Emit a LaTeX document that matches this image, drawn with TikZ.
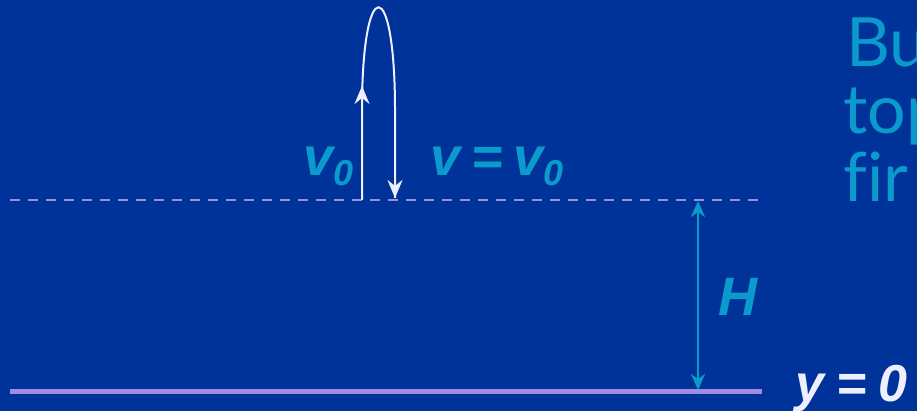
\documentclass[tikz,border=0pt]{standalone}
\usepackage{fontspec}
\setmainfont{Liberation Sans}
\newfontfamily\handfont[Ligatures=NoCommon]{Lato}
\usetikzlibrary{arrows.meta}
\definecolor{bgblue}{HTML}{003399}
\definecolor{cyantext}{HTML}{0A9ACC}
\definecolor{lav}{HTML}{A08CE0}
\definecolor{whitish}{HTML}{EEEEFF}
\tikzset{
  lbl/.style={text=cyantext, font=\fontsize{54}{54}\selectfont\bfseries\itshape, inner sep=0pt},
  motion/.style={draw=whitish, line width=2pt},
  tipst/.style={-{Stealth[length=18pt,width=15pt,inset=6pt]}},
  hand/.style={text=cyantext, font=\handfont\fontsize{68}{68}\selectfont, anchor=base west, inner sep=0pt}
}
\begin{document}
\begin{tikzpicture}[x=1pt,y=-1pt]
\fill[bgblue] (0,0) rectangle (917,411);
\useasboundingbox (0,0) rectangle (917,411);
\clip (0,0) rectangle (917,411);
% reference lines
\coordinate (dl) at (10,200);
\coordinate (dr) at (764,200);
\coordinate (gl) at (10,391);
\coordinate (gr) at (762,391);
\draw[lav, line width=2.2pt, dash pattern=on 10pt off 8pt] (dl) -- (dr);
\draw[lav, line width=5pt] (gl) -- (gr);
% trajectory
\coordinate (s) at (362,200);
\coordinate (mid) at (362,86);
\coordinate (e) at (395,198);
\draw[motion] (s) -- (362,110) .. controls (362,-27) and (395,-27) .. (395,110) -- (e);
\draw[motion, tipst] (s) -- (mid);
\draw[motion, tipst] (395,150) -- (e);
% height arrow
\coordinate (ht) at (698,201);
\coordinate (hb) at (698,390);
\draw[draw=cyantext, line width=2pt, {Stealth[length=16pt,width=14pt,inset=5pt]}-{Stealth[length=16pt,width=14pt,inset=5pt]}] (ht) -- (hb);
% labels
\node[lbl, anchor=base west] (v0) at (303,176) {v\raisebox{-10pt}{\fontsize{36}{36}\selectfont 0}};
\node[lbl, anchor=base west] (vv) at (430,176) {v\kern11pt=\kern11pt v\raisebox{-10pt}{\fontsize{36}{36}\selectfont 0}};
\node[lbl, anchor=base west] (H) at (718,315) {H};
\node[lbl, anchor=base west, text=whitish, font=\fontsize{52}{52}\selectfont\bfseries\itshape] (y0) at (795,401) {y\kern12pt=\kern12pt0};
% right text
\node[hand] (t1) at (846,67) {Bu};
\node[hand] (t2) at (843,134) {top};
\node[hand] (t3) at (843,202) {fir};
\end{tikzpicture}
\end{document}
